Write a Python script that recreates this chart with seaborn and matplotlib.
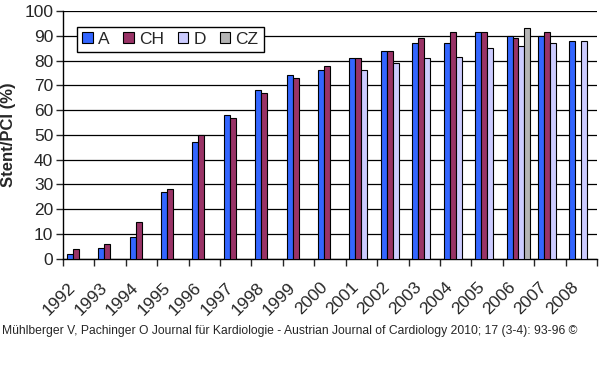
import numpy as np
import pandas as pd
import matplotlib
matplotlib.use("Agg")
import matplotlib.pyplot as plt
import seaborn as sns

# Stent/PCI share per country and year
years = [str(y) for y in range(1992, 2009)]
countries = ["A", "CH", "D", "CZ"]
nan = np.nan
a_vals = [2, 4.5, 9, 27, 47, 58, 68, 74, 76, 81, 84, 87, 87, 91.5, 90, 90, 88]
ch_vals = [4, 6, 15, 28, 50, 57, 67, 73, 78, 81, 84, 89, 91.5, 91.5, 89, 91.5, nan]
d_vals = [nan] * 9 + [76, 79, 81, 81.5, 85, 86, 87, 88]
cz_vals = [nan] * 14 + [93, nan, nan]
colors = ["#3366ff", "#993366", "#ccccff", "#b4b4b4"]

df = pd.DataFrame({
    "Year": years * 4,
    "Country": [c for c in countries for _ in years],
    "Value": a_vals + ch_vals + d_vals + cz_vals,
})

sns.set_style("white")
plt.rcParams["font.family"] = ["Liberation Sans", "DejaVu Sans"]

fig = plt.figure(figsize=(6, 3.79), dpi=100)
ax = fig.add_axes([0.105, 0.317, 0.89, 0.654])

sns.barplot(data=df, x="Year", y="Value", hue="Country", hue_order=countries,
            order=years, palette=colors, width=0.76, errorbar=None,
            edgecolor="black", linewidth=0.8, saturation=1, ax=ax, zorder=3)

ax.set_ylim(0, 100)
ax.set_xlim(-0.5, len(years) - 0.5)
ax.set_yticks(range(0, 101, 10))
ax.yaxis.grid(True, color="black", linewidth=0.9, zorder=0)
ax.set_axisbelow(True)
for s in ["top", "right"]:
    ax.spines[s].set_visible(False)
for s in ["left", "bottom"]:
    ax.spines[s].set_color("black")
    ax.spines[s].set_linewidth(1)

ax.tick_params(axis="y", labelsize=12.5, length=5, width=1, pad=2, left=True)
ax.set_xticks(range(len(years)))
ax.set_xticklabels(years, rotation=45, ha="right", fontsize=12.5)
ax.tick_params(axis="x", length=0, pad=15)
ax.set_xticks(np.arange(-0.5, len(years), 1), minor=True)
ax.tick_params(axis="x", which="minor", length=5, width=1, bottom=True)

ax.set_xlabel("")
ax.set_ylabel("Stent/PCI (%)", fontsize=12, fontweight="bold", labelpad=6)

handles, labels = ax.get_legend_handles_labels()
leg = ax.legend(handles, labels, ncol=4, loc="upper left",
                bbox_to_anchor=(0.026, 0.937), fontsize=12.5, frameon=True,
                fancybox=False, edgecolor="black", framealpha=1,
                handlelength=0.6, handleheight=0.6, handletextpad=0.3,
                columnspacing=0.8, borderpad=0.3, borderaxespad=0)
leg.get_frame().set_linewidth(1)

fig.text(0.003, 0.127,
         "Mühlberger V, Pachinger O Journal für Kardiologie - Austrian Journal of Cardiology 2010; 17 (3-4): 93-96 ©",
         fontsize=8.75, va="center", ha="left")

fig.savefig("out.png", dpi=100, facecolor="white")
